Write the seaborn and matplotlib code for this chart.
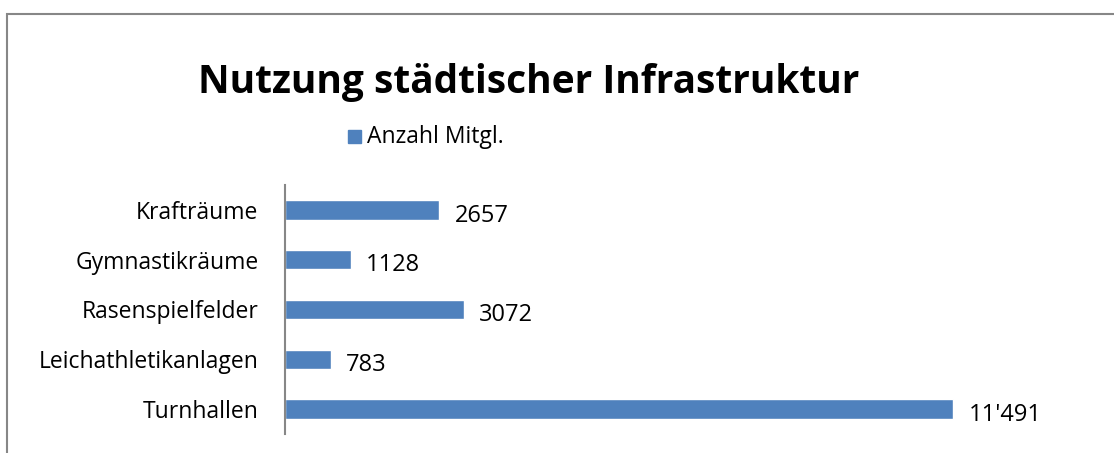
import matplotlib
matplotlib.use('Agg')
import matplotlib.pyplot as plt
import seaborn as sns
import pandas as pd
from matplotlib.patches import Rectangle

# data
categories = ['Krafträume', 'Gymnastikräume', 'Rasenspielfelder', 'Leichathletikanlagen', 'Turnhallen']
members = [2657, 1128, 3072, 783, 11491]
series_name = 'Anzahl Mitgl.'

df = pd.DataFrame({'Anlage': categories, 'Mitglieder': members})

sns.set_style('white')
plt.rcParams['font.family'] = ['Open Sans', 'DejaVu Sans']
plt.rcParams['text.color'] = 'black'
plt.rcParams['ytick.color'] = 'black'

bar_color = '#4f81bd'
frame_color = '#878787'

fig = plt.figure(figsize=(11.14, 4.53), dpi=100)
ax = fig.add_axes([285 / 1114, 1 - 434 / 453, (1099 - 285) / 1114, (434 - 185) / 453])

sns.barplot(data=df, y='Anlage', x='Mitglieder', orient='h', color=bar_color,
            width=0.39, saturation=1, ax=ax)

ax.set_xlim(0, 14000)
ax.set_ylim(len(categories) - 0.5, -0.5)
ax.set_xlabel('')
ax.set_ylabel('')
ax.set_xticks([])
ax.tick_params(axis='y', length=0, pad=19, labelsize=16.5, labelcolor='black')
for lbl in ax.get_yticklabels():
    lbl.set_va('center_baseline')
for side in ['top', 'right', 'bottom']:
    ax.spines[side].set_visible(False)
ax.spines['left'].set_color(frame_color)
ax.spines['left'].set_linewidth(1.5)

def fmt(v):
    return f"{v:,}".replace(',', "'") if v >= 10000 else str(v)

for i, v in enumerate(members):
    ax.annotate(fmt(v), (v, i), xytext=(11, -2), textcoords='offset points',
                ha='left', va='center_baseline', fontsize=17, color='black')

fig.text(529 / 1114, 1 - 82 / 453, 'Nutzung städtischer Infrastruktur',
         ha='center', va='center', fontsize=28, fontweight='bold', color='black')

# legend
fig.patches.append(Rectangle((348 / 1114, 1 - 143 / 453), 13 / 1114, 13 / 453,
                             transform=fig.transFigure, color=bar_color))
fig.text(367 / 1114, 1 - 137 / 453, series_name, ha='left', va='center',
         fontsize=16.5, color='black')

# chart frame (cut at right and bottom)
fig.patches.append(Rectangle((7 / 1114, -0.05), 1.2, 1 - 14 / 453 + 0.05,
                             transform=fig.transFigure, fill=False,
                             edgecolor=frame_color, linewidth=1.5))

fig.savefig('out.png', dpi=100)
